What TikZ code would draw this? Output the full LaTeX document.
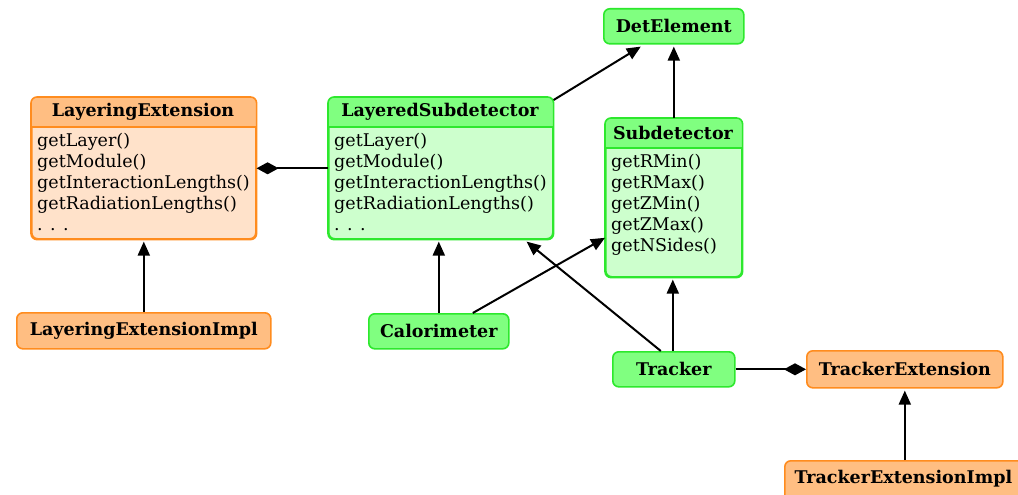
\documentclass[tikz,border=0pt]{standalone}
\usepackage{fontspec}
\setmainfont{DejaVu Serif}
\usetikzlibrary{arrows.meta}
\definecolor{oBorder}{RGB}{255,140,30}
\definecolor{oHead}{RGB}{255,190,130}
\definecolor{oBody}{RGB}{255,226,202}
\definecolor{gBorder}{RGB}{45,232,45}
\definecolor{gHead}{RGB}{128,255,128}
\definecolor{gBody}{RGB}{205,255,205}
\tikzset{
  box/.style={draw, rounded corners=6pt, line width=1.6pt, inner sep=0pt, anchor=north west},
  obox/.style={box, draw=oBorder, fill=oHead},
  gbox/.style={box, draw=gBorder, fill=gHead},
  ocls/.style={box, draw=oBorder, fill=oBody},
  gcls/.style={box, draw=gBorder, fill=gBody},
  ttl/.style={font=\fontsize{17.5}{20}\selectfont\bfseries},
  body/.style={font=\fontsize{17.5}{21}\selectfont, align=left, anchor=north west, inner sep=0pt},
  inh/.style={line width=2pt, -{Triangle[length=14pt,width=12pt]}},
  comp/.style={line width=2pt, -{Diamond[length=22pt,width=12pt]}},
}
\newcommand{\header}[4]{% node, height, fill, border
  \fill[#3] ([yshift=-#2]#1.north west) [rounded corners=6pt]-- (#1.north west) -- (#1.north east) [sharp corners]-- ([yshift=-#2]#1.north east) -- cycle;
  \draw[#4, line width=1.2pt] ([yshift=-#2]#1.north west) -- ([yshift=-#2]#1.north east);
  \draw[#4, line width=1.6pt, rounded corners=6pt] (#1.north west) rectangle (#1.south east);
}
\begin{document}
\begin{tikzpicture}[x=1pt,y=1pt]
\useasboundingbox[fill=white] (0,0) rectangle (1018,-495);

% class boxes
\node[ocls, minimum width=224pt, minimum height=141pt] (LE) at (31,-97) {};
\header{LE}{30pt}{oHead}{oBorder}
\node[ttl] at (143,-112) {LayeringExtension};
\node[body] at (37,-133) {getLayer()\\getModule()\\getInteractionLengths()\\getRadiationLengths()\\. . .};

\node[gcls, minimum width=224pt, minimum height=141pt] (LS) at (328,-97) {};
\header{LS}{30pt}{gHead}{gBorder}
\node[ttl] at (440,-112) {LayeredSubdetector};
\node[body] at (334,-133) {getLayer()\\getModule()\\getInteractionLengths()\\getRadiationLengths()\\. . .};

\node[gcls, minimum width=136pt, minimum height=158pt] (SD) at (605,-118) {};
\header{SD}{30pt}{gHead}{gBorder}
\node[ttl] at (673,-133) {Subdetector};
\node[body] at (611,-154) {getRMin()\\getRMax()\\getZMin()\\getZMax()\\getNSides()};

% simple boxes
\node[gbox, minimum width=140pt, minimum height=35pt] (DE) at (603,-8) {};
\node[ttl] at (DE.center) {DetElement};
\node[obox, minimum width=254pt, minimum height=36pt] (LEI) at (16,-312) {};
\node[ttl] at (LEI.center) {LayeringExtensionImpl};
\node[gbox, minimum width=140pt, minimum height=35pt] (CA) at (368,-313) {};
\node[ttl] at (CA.center) {Calorimeter};
\node[gbox, minimum width=122pt, minimum height=35pt] (TR) at (612,-351) {};
\node[ttl] at (TR.center) {Tracker};
\node[obox, minimum width=196pt, minimum height=37pt] (TE) at (806,-350) {};
\node[ttl] at (TE.center) {TrackerExtension};
\node[obox, minimum width=242pt, minimum height=40pt] (TEI) at (784,-460) {};
\node[ttl, anchor=west] at (791,-479) {TrackerExtensionImpl};

% connectors
\draw[inh] ([yshift=-3pt]LS.north east) -- ([xshift=-33pt,yshift=-2pt]DE.south);
\draw[inh] (SD.north) -- ([yshift=-2pt]DE.south);
\draw[inh] (LEI.north) -- ([yshift=-2pt]LE.south);
\draw[inh] ([xshift=-2pt]LS.south |- CA.north) -- ([xshift=-2pt,yshift=-2pt]LS.south);
\draw[inh] ([xshift=34pt]CA.north) -- ([yshift=-40pt]SD.west);
\draw[inh] ([xshift=-13pt]TR.north) -- ([xshift=-27pt,yshift=-2pt]LS.south east);
\draw[inh] ([xshift=-1pt]TR.north) -- ([xshift=-1pt,yshift=-2pt]SD.south);
\draw[inh] (TE.south |- TEI.north) -- ([yshift=-2pt]TE.south);
\draw[comp] (LS.west) -- (LE.east);
\draw[comp] (TR.east) -- (TE.west);
\end{tikzpicture}
\end{document}
